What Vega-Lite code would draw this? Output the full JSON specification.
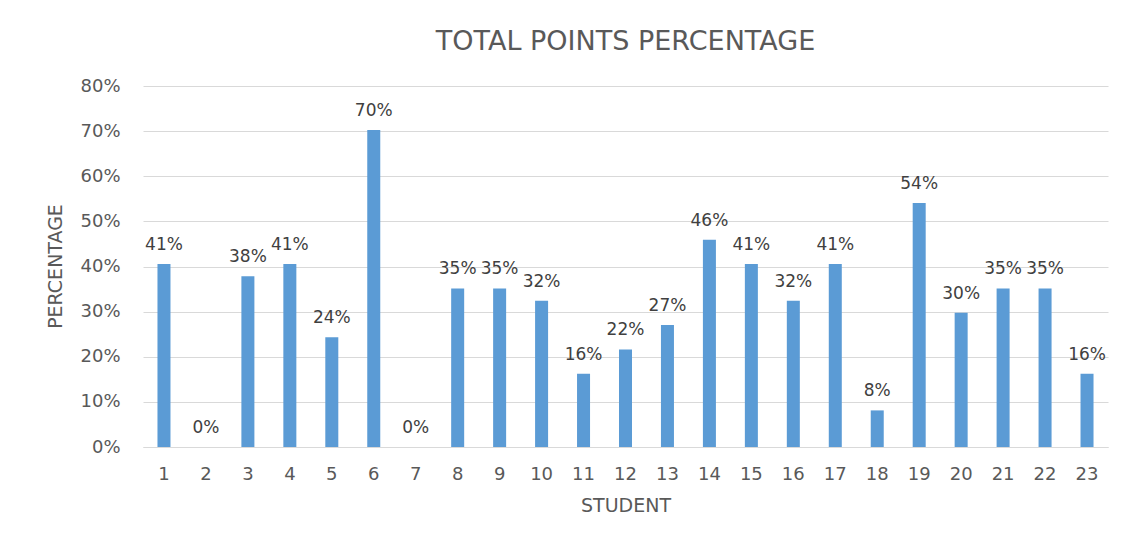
{
  "$schema": "https://vega.github.io/schema/vega-lite/v6.json",
  "autosize": {"type": "none"},
  "padding": {"left": 143, "top": 86, "right": 22, "bottom": 98},
  "width": 965,
  "height": 361,
  "background": "white",
  "title": {
    "text": "TOTAL POINTS PERCENTAGE",
    "font": "DejaVu Sans",
    "fontSize": 27,
    "fontWeight": "normal",
    "color": "#595959",
    "anchor": "middle",
    "offset": 21
  },
  "config": {
    "view": {"stroke": null},
    "font": "DejaVu Sans"
  },
  "data": {
    "values": [
      {"student": "1", "pct": 0.4054},
      {"student": "2", "pct": 0},
      {"student": "3", "pct": 0.3784},
      {"student": "4", "pct": 0.4054},
      {"student": "5", "pct": 0.2432},
      {"student": "6", "pct": 0.7027},
      {"student": "7", "pct": 0},
      {"student": "8", "pct": 0.3514},
      {"student": "9", "pct": 0.3514},
      {"student": "10", "pct": 0.3243},
      {"student": "11", "pct": 0.1622},
      {"student": "12", "pct": 0.2162},
      {"student": "13", "pct": 0.2703},
      {"student": "14", "pct": 0.4595},
      {"student": "15", "pct": 0.4054},
      {"student": "16", "pct": 0.3243},
      {"student": "17", "pct": 0.4054},
      {"student": "18", "pct": 0.0811},
      {"student": "19", "pct": 0.5405},
      {"student": "20", "pct": 0.2973},
      {"student": "21", "pct": 0.3514},
      {"student": "22", "pct": 0.3514},
      {"student": "23", "pct": 0.1622}
    ]
  },
  "encoding": {
    "x": {
      "field": "student",
      "type": "ordinal",
      "sort": null,
      "scale": {"paddingInner": 0.69, "paddingOuter": 0.345},
      "axis": {
        "title": "STUDENT",
        "titleFont": "DejaVu Sans",
        "titleFontSize": 19,
        "titleFontWeight": "normal",
        "titleColor": "#595959",
        "titleBaseline": "middle",
        "titleY": 58,
        "labelAngle": 0,
        "labelFontSize": 18,
        "labelColor": "#595959",
        "labelPadding": 18,
        "ticks": false,
        "domainColor": "#d9d9d9",
        "domainWidth": 1
      }
    },
    "y": {
      "field": "pct",
      "type": "quantitative",
      "scale": {"domain": [0, 0.8]},
      "axis": {
        "title": "PERCENTAGE",
        "titleFont": "DejaVu Sans",
        "titleFontSize": 19,
        "titleFontWeight": "normal",
        "titleColor": "#595959",
        "titleAngle": -90,
        "titleBaseline": "middle",
        "titleX": -88,
        "titleY": 180,
        "values": [0, 0.1, 0.2, 0.3, 0.4, 0.5, 0.6, 0.7, 0.8],
        "format": ".0%",
        "labelFontSize": 18,
        "labelColor": "#595959",
        "labelPadding": 23,
        "ticks": false,
        "domain": false,
        "grid": true,
        "gridColor": "#d9d9d9",
        "gridWidth": 1
      }
    }
  },
  "layer": [
    {"mark": {"type": "bar", "color": "#5B9BD5"}},
    {
      "mark": {
        "type": "text",
        "baseline": "alphabetic",
        "dy": -14,
        "fontSize": 17,
        "color": "#404040"
      },
      "encoding": {
        "text": {"field": "pct", "type": "quantitative", "format": ".0%"}
      }
    }
  ]
}
